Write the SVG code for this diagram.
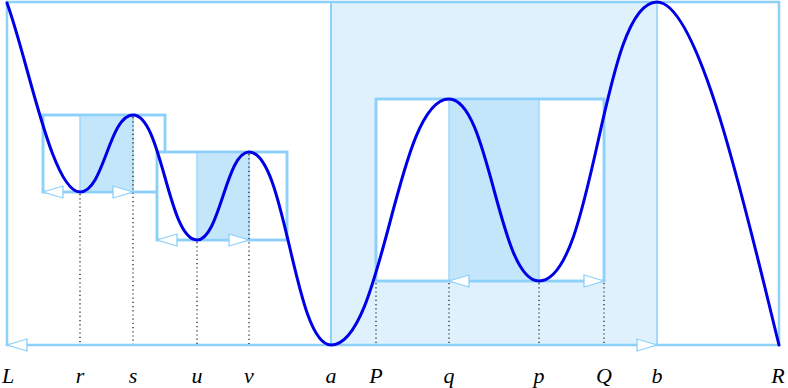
<svg xmlns="http://www.w3.org/2000/svg" width="788" height="388" viewBox="0 0 788 388">
<style>
.box{fill:#ffffff;stroke:#8dd0fa;stroke-width:2.5}
.frame{fill:none;stroke:#8dd0fa;stroke-width:2.5}
.band{fill:#c4e6fb;stroke:#9fd8fb;stroke-width:1.5}
.big{fill:#dff1fd;stroke:none}
.edge{stroke:#8dd0fa;fill:none}
.arr{fill:#ffffff;stroke:#8dd0fa;stroke-width:1.3;stroke-linejoin:miter}
.dot{stroke:#000;stroke-width:1.1;stroke-dasharray:1.2 3;fill:none}
.curve{fill:none;stroke:#0000e6;stroke-width:3;stroke-linecap:round;stroke-linejoin:round}
.lbl{font-family:"Liberation Serif","DejaVu Serif",serif;font-style:italic;font-size:22px;fill:#000;text-anchor:middle}
</style>
<g id="outer">
<rect class="big" x="331" y="2" width="326" height="343"/>
<rect class="frame" x="7" y="2" width="772" height="343"/>
<line class="edge" x1="331" y1="2" x2="331" y2="345" stroke-width="2"/>
<line class="edge" x1="657" y1="2" x2="657" y2="345" stroke-width="1.5"/>
</g>
<g id="boxPQ">
<rect class="box" x="376" y="99" width="228" height="182"/>
<rect class="band" x="449" y="99" width="90" height="182"/>
<rect class="frame" x="376" y="99" width="228" height="182"/>
</g>
<g id="boxRS">
<rect class="box" x="43" y="115" width="122" height="77"/>
<rect class="band" x="80" y="115" width="53" height="77"/>
<rect class="frame" x="43" y="115" width="122" height="77"/>
</g>
<g id="boxUV">
<rect class="box" x="157" y="152" width="130" height="88"/>
<rect class="band" x="197" y="152" width="52" height="88"/>
<rect class="frame" x="157" y="152" width="130" height="88"/>
</g>
<g id="connectors">
<line class="dot" x1="80" y1="194" x2="80" y2="344"/>
<line class="dot" x1="133" y1="117" x2="133" y2="344"/>
<line class="dot" x1="197" y1="242" x2="197" y2="344"/>
<line class="dot" x1="249" y1="154" x2="249" y2="344"/>
<line class="dot" x1="376" y1="283" x2="376" y2="344"/>
<line class="dot" x1="449" y1="283" x2="449" y2="344"/>
<line class="dot" x1="539" y1="283" x2="539" y2="344"/>
<line class="dot" x1="604" y1="283" x2="604" y2="344"/>
<polygon class="arr" points="7,345 27,339 27,351"/>
<polygon class="arr" points="657,345 637,339 637,351"/>
<polygon class="arr" points="43,192 63,186 63,198"/>
<polygon class="arr" points="133,192 113,186 113,198"/>
<polygon class="arr" points="157,240 177,234 177,246"/>
<polygon class="arr" points="249,240 229,234 229,246"/>
<polygon class="arr" points="449,281 469,275 469,287"/>
<polygon class="arr" points="604,281 584,275 584,287"/>
</g>
<g id="curve">
<path class="curve" d="M7,3 C28,60 52,192 80,192 C104,192 109,115 133,115 C162,115 168,240 197,240 C220,240 226,152 249,152 C286,152 294,345 331,345 C384,345 396,99 449,99 C490,99 498,281 539,281 C595,281 601,2 657,2 C700,2 748,220 779,345"/>
</g>
<g id="labels">
<text class="lbl" x="8" y="383">L</text>
<text class="lbl" x="80" y="383">r</text>
<text class="lbl" x="133" y="383">s</text>
<text class="lbl" x="197" y="383">u</text>
<text class="lbl" x="249" y="383">v</text>
<text class="lbl" x="331" y="383">a</text>
<text class="lbl" x="376" y="383">P</text>
<text class="lbl" x="449" y="383">q</text>
<text class="lbl" x="539" y="383">p</text>
<text class="lbl" x="604" y="383">Q</text>
<text class="lbl" x="657" y="383">b</text>
<text class="lbl" x="778" y="383">R</text>
</g>
</svg>
